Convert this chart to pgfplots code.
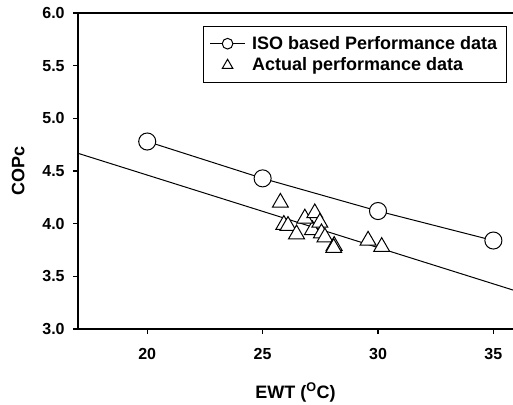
\documentclass[border=0pt]{standalone}
\usepackage{fontspec}
\setmainfont{Liberation Sans}
\usepackage{pgfplots}
\pgfplotsset{compat=1.18}
\usetikzlibrary{calc}

\begin{document}
\begin{tikzpicture}
\begin{axis}[
    scale only axis,
    width=326.25pt, height=237pt,
    xmin=17, xmax=35.85,
    ymin=3, ymax=6,
    xtick={20,25,30,35},
    ytick={3,3.5,4,4.5,5,5.5,6},
    axis x line*=box,
    axis y line*=left,
    xtick pos=left,
    ytick pos=left,
    tick align=outside,
    major tick length=3.5pt,
    axis line style={line width=0.8pt, black},
    major tick style={line width=0.8pt, black},
    /pgf/number format/assume math mode=true,
    ticklabel style={font=\fontsize{12}{14}\selectfont\bfseries},
    xticklabel style={yshift=-7.5pt},
    yticklabel style={xshift=-3pt, /pgf/number format/fixed, /pgf/number format/fixed zerofill, /pgf/number format/precision=1},
    xlabel={EWT (\textsuperscript{O}C)},
    ylabel={COPc},
    label style={font=\fontsize{13.5}{16}\selectfont\bfseries},
    xlabel style={at={(axis description cs:0.5,-0.1994)}, anchor=center},
    ylabel style={at={(axis description cs:-0.1373,0.5)}, anchor=center},
    legend style={
        at={(1,1)}, anchor=north east, xshift=-4.5pt, yshift=-9.75pt,
        draw=black, line width=0.75pt,
        font=\fontsize{13.5}{16}\selectfont\bfseries,
        cells={anchor=west},
        inner xsep=5pt, inner ysep=5.25pt, row sep=1pt,
        /tikz/every odd column/.append style={column sep=3pt},
    },
]

% regression line through the measured points
\addplot[black, line width=0.75pt, forget plot] coordinates {(17,4.668) (35.85,3.37)};

% ISO based performance data
\addplot[black, line width=0.75pt, mark=*, mark size=6.4pt,
    mark options={fill=white, draw=black, line width=0.75pt}, forget plot]
    coordinates {(20,4.78) (25,4.43) (30,4.12) (35,3.84)};

% actual performance data
\addplot[only marks, mark=triangle*, mark size=6.9pt,
    mark options={fill=white, draw=black, line width=0.75pt}, forget plot]
    coordinates {
        (25.77,4.20)
        (25.92,3.99)
        (26.10,3.98)
        (26.47,3.90)
        (27.16,3.94)
        (26.83,4.05)
        (27.26,4.10)
        (27.48,4.01)
        (27.55,3.91)
        (27.70,3.87)
        (28.10,3.79)
        (28.08,3.77)
        (29.57,3.84)
        (30.16,3.78)
    };

\addlegendimage{legend image code/.code={
    \draw[black, line width=0.75pt] (0pt,0pt) -- (26pt,0pt);
    \draw[black, line width=0.75pt, fill=white] (13pt,0pt) circle (4pt);
}}
\addlegendentry{ISO based Performance data}
\addlegendimage{legend image code/.code={
    \path[draw=none] (0pt,0pt) rectangle (26pt,0.1pt);
    \draw[black, line width=0.75pt, fill=white]
        (13pt,4.6pt) -- (16.98pt,-2.3pt) -- (9.02pt,-2.3pt) -- cycle;
}}
\addlegendentry{Actual performance data}

\coordinate (SW) at (rel axis cs:0,0);
\coordinate (NE) at (rel axis cs:1,1);
\end{axis}
\pgfresetboundingbox
\path ($(SW)+(-58.5pt,-56.25pt)$) rectangle ($(NE)+(0pt,9.75pt)$);
\end{tikzpicture}
\end{document}
